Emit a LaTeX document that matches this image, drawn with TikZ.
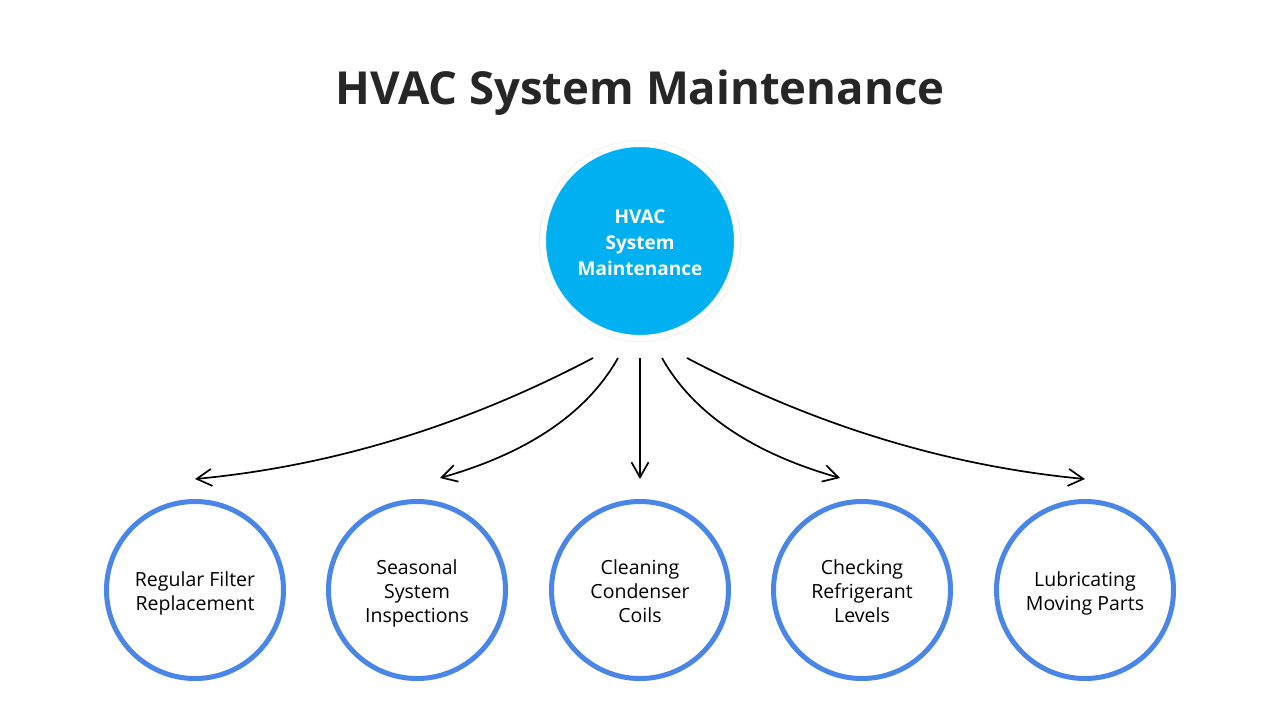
\documentclass[tikz,border=0pt]{standalone}
\usepackage{fontspec}
\setmainfont{Open Sans}
\usetikzlibrary{arrows.meta,shadows}
\definecolor{titlegray}{HTML}{262626}
\definecolor{hubblue}{HTML}{00B0F0}
\definecolor{ringblue}{HTML}{4A86E8}
\newcommand\lbltext[2]{\raisebox{#1}[\height][\depth]{\begin{tabular}{@{}c@{}}#2\end{tabular}}}
\tikzset{
  hub/.style={circle, minimum size=194pt, inner sep=0pt, fill=hubblue, draw=white, line width=6pt,
    text=white, font=\bfseries\fontsize{19}{26}\selectfont,
    drop shadow={opacity=0.12, shadow xshift=0pt, shadow yshift=0pt, shadow scale=1.04}},
  leaf/.style={circle, minimum size=177pt, inner sep=0pt, fill=white, draw=ringblue, line width=5pt,
    text=black, font=\fontsize{19.5}{24}\selectfont,
    drop shadow={opacity=0.08, shadow xshift=0pt, shadow yshift=0pt, shadow scale=1.03}},
  conn/.style={-{Straight Barb[length=15pt,width=17pt]}, line width=1.7pt, black},
  titletext/.style={font=\bfseries\fontsize{45.5}{54}\selectfont, text=titlegray, anchor=base}
}
\begin{document}
\begin{tikzpicture}[x=1pt,y=-1pt]
\useasboundingbox[fill=white] (0,0) rectangle (1280,720);
\node[titletext] (title) at (640,104) {HVAC System Maintenance};
\node[hub] (hub) at (640,241) {\lbltext{-3pt}{HVAC\\System\\Maintenance}};
\node[leaf] (l1) at (195,590) {\lbltext{-4pt}{Regular Filter\\Replacement}};
\node[leaf] (l2) at (417,590) {\lbltext{-4pt}{Seasonal\\System\\Inspections}};
\node[leaf] (l3) at (640,590) {\lbltext{-4pt}{Cleaning\\Condenser\\Coils}};
\node[leaf] (l4) at (862,590) {\lbltext{-4pt}{Checking\\Refrigerant\\Levels}};
\node[leaf] (l5) at (1085,590) {\lbltext{-4pt}{Lubricating\\Moving Parts}};
\coordinate (s1) at (593,358);
\coordinate (s2) at (618,358);
\coordinate (s3) at (640,358);
\coordinate (s4) at (662,358);
\coordinate (s5) at (687,358);
\coordinate (e1) at (195,479);
\coordinate (e2) at (440,478);
\coordinate (e3) at (640,479);
\coordinate (e4) at (840,478);
\coordinate (e5) at (1085,479);
\draw[conn] (s1) .. controls (466,425) and (333,466) .. (e1);
\draw[conn] (s2) .. controls (587,413) and (528,453) .. (e2);
\draw[conn] (s3) -- (e3);
\draw[conn] (s4) .. controls (693,413) and (752,453) .. (e4);
\draw[conn] (s5) .. controls (814,425) and (947,466) .. (e5);
\end{tikzpicture}
\end{document}
